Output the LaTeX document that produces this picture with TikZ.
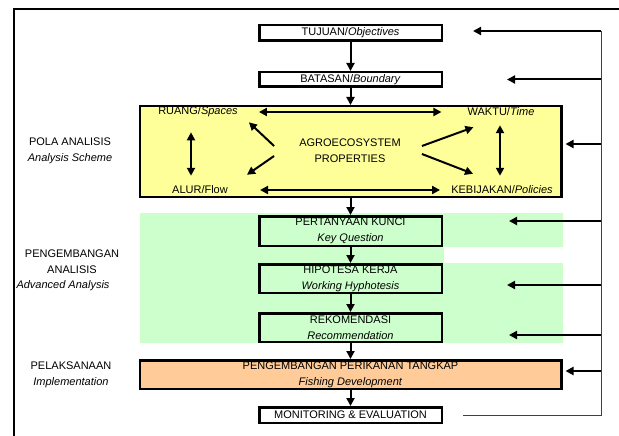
\documentclass[tikz,border=0pt]{standalone}
\usepackage{fontspec}
\setmainfont{Liberation Sans}
\usetikzlibrary{arrows.meta, positioning}
\definecolor{polafill}{HTML}{FFFF99}
\definecolor{analisisfill}{HTML}{CCFFCC}
\definecolor{tangkapfill}{HTML}{FFCC99}

\begin{document}
\begin{tikzpicture}[
    x=1pt, y=-1pt,
    font=\fontsize{11}{16}\selectfont,
    box/.style={rectangle, draw, line width=2.5pt, minimum width=182.5pt, align=center, inner sep=0pt},
    widebox/.style={box, minimum width=421.5pt},
    txt/.style={inner sep=1pt, align=center},
    arrow/.style={-{Triangle[length=8pt, width=8pt]}, line width=2pt},
    dblarrow/.style={{Triangle[length=8pt, width=8pt]}-{Triangle[length=8pt, width=8pt]}, line width=2pt},
    rail/.style={line width=0.8pt, black!75}
]
\useasboundingbox (0,0) rectangle (619,436);

\draw[line width=2pt] (14,436) -- (14,9) -- (619,9);
\fill[analisisfill] (140,213) -- (563,213) -- (563,247) -- (444,247) -- (444,263)
    -- (563,263) -- (563,343) -- (140,343) -- cycle;

\node[box, minimum height=15.5pt] (tujuan) at (350.5,33) {TUJUAN/\textit{Objectives}};
\node[box, minimum height=14.5pt, below=29pt of tujuan] (batasan) {BATASAN/\textit{Boundary}};
\node[widebox, fill=polafill, minimum height=90.5pt, below=17pt of batasan] (pola) {};
\node[box, minimum height=29.5pt, below=17pt of pola] (kunci) {PERTANYAAN KUNCI\\\textit{Key Question}};
\node[box, minimum height=28.5pt, below=16pt of kunci] (hipotesa) {HIPOTESA KERJA\\\textit{Working Hyphotesis}};
\node[box, minimum height=28.5pt, below=18pt of hipotesa] (rekomendasi) {REKOMENDASI\\\textit{Recommendation}};
\node[widebox, fill=tangkapfill, minimum height=28.5pt, below=16pt of rekomendasi] (tangkap) {PENGEMBANGAN PERIKANAN TANGKAP\\\textit{Fishing Development}};
\node[box, minimum height=15.5pt, below=16pt of tangkap] (monitoring) {MONITORING \& EVALUATION};

\foreach \a/\b in {tujuan/batasan, batasan/pola, pola/kunci, kunci/hipotesa, hipotesa/rekomendasi, rekomendasi/tangkap, tangkap/monitoring}
    \draw[arrow] (\a.south) -- (\b.north);

\node[txt] (ruang) at (198,112) {RUANG/\textit{Spaces}};
\node[txt] (waktu) at (501,112) {WAKTU/\textit{Time}};
\node[txt] (alur) at (200,190) {ALUR/Flow};
\node[txt] (kebijakan) at (502,190) {KEBIJAKAN/\textit{Policies}};
\node[txt] (agro) at (350,151) {AGROECOSYSTEM\\PROPERTIES};

\draw[dblarrow, shorten <=20pt, shorten >=25pt] (ruang.east) -- (waktu.west);
\draw[dblarrow, shorten <=31pt, shorten >=10pt] (alur.east) -- (kebijakan.west);
\draw[dblarrow, shorten <=14pt, shorten >=9pt] ([xshift=-7pt]ruang.south) -- ([xshift=-9pt]alur.north);
\draw[dblarrow, shorten <=8pt, shorten >=9pt] ([xshift=-1pt]waktu.south) -- ([xshift=-2pt]kebijakan.north);
\draw[arrow] ([xshift=-24pt, yshift=5pt]agro.west) -- ([xshift=10pt, yshift=-4pt]ruang.south east);
\draw[arrow] ([xshift=-24pt, yshift=-5pt]agro.west) -- ([xshift=18pt, yshift=10pt]alur.north east);
\draw[arrow] ([xshift=20pt, yshift=5pt]agro.east) -- ([xshift=7pt, yshift=-10pt]waktu.south west);
\draw[arrow] ([xshift=20pt, yshift=-3pt]agro.east) -- ([xshift=23pt, yshift=11pt]kebijakan.north west);

\node[txt] (polalabel) at (70,151) {POLA ANALISIS\\\textit{Analysis Scheme}};
\node[txt] (analisislabel) at (72,262) {PENGEMBANGAN\\ANALISIS};
\node[txt] (advancedlabel) at (63,286) {\textit{Advanced Analysis}};
\node[txt] (pelaksanaanlabel) at (71,374.5) {PELAKSANAAN\\\textit{Implementation}};

\coordinate (railtop) at (601,31);
\draw[rail] ([xshift=20pt]monitoring.east) -| (railtop);
\foreach \n/\dx/\dy in {tujuan/30/2, batasan/64/0, pola/3/7.5, kunci/66/10, hipotesa/64/-6.5, rekomendasi/66/-7.5, tangkap/3/3.5} {
    \path ([xshift=\dx pt, yshift=\dy pt]\n.east) coordinate (tip);
    \draw[arrow] (tip -| railtop) -- (tip);
}

\end{tikzpicture}
\end{document}
